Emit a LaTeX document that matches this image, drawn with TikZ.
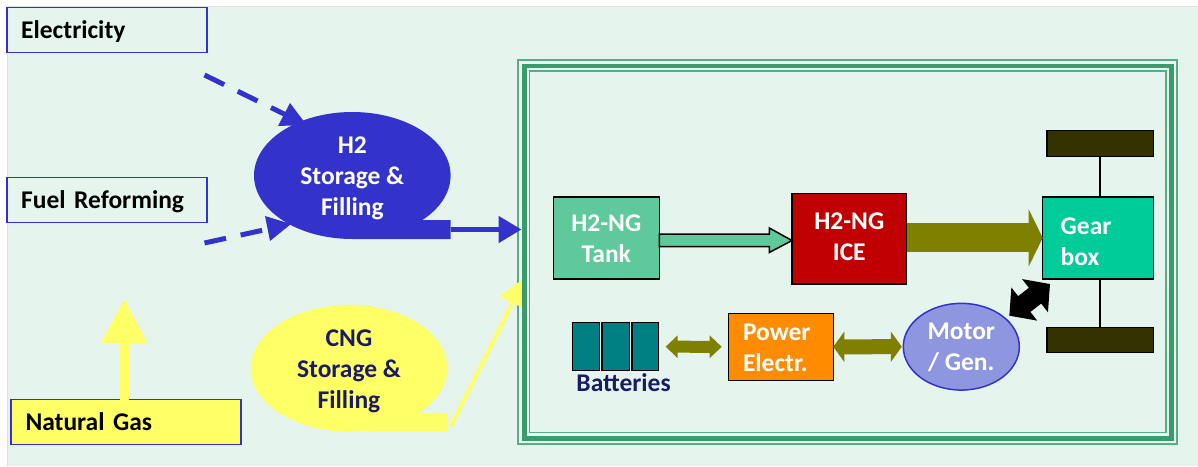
\documentclass[tikz,border=0pt]{standalone}
\usepackage{fontspec}
\setmainfont{Carlito}
\usetikzlibrary{arrows.meta,shapes.geometric,calc}
\definecolor{bgc}{HTML}{E5F5EE}
\definecolor{gapc}{HTML}{EDF7F2}
\definecolor{thinc}{HTML}{55AD84}
\definecolor{thickc}{HTML}{3A9C6E}
\definecolor{bluec}{HTML}{3333CC}
\definecolor{yel}{HTML}{FFFF66}
\definecolor{navy}{HTML}{1A1A66}
\definecolor{tankc}{HTML}{5FC99B}
\definecolor{iceC}{HTML}{C00000}
\definecolor{olive}{HTML}{808000}
\definecolor{gearc}{HTML}{00CC99}
\definecolor{wheelc}{HTML}{333300}
\definecolor{batc}{HTML}{008080}
\definecolor{powc}{HTML}{FF8C00}
\definecolor{motc}{HTML}{8E96E0}
\newcommand{\toprule}[1]{\rule{0pt}{#1pt}}
\newcommand{\ctext}[2]{\raisebox{#1pt}[0pt][0pt]{\begin{tabular}{@{}c@{}}#2\end{tabular}}}
\tikzset{
  dn/.style={execute at begin node=\rule{0pt}{#1pt}},
  lab/.style={font=\fontsize{25.5}{31}\selectfont\bfseries,inner sep=0pt,outer sep=0pt,
    dn=23,execute at end node=\rule[-6pt]{0pt}{0pt}},
  srcbox/.style={lab,rectangle,draw=bluec,line width=1.5pt,minimum height=45pt,text width=172pt,minimum width=200pt,inner xsep=14pt,align=left,text=black},
  blackbox/.style={lab,rectangle,draw=black,line width=1.5pt,text=white},
  plainbox/.style={rectangle,draw=black,line width=1.5pt,inner sep=0pt,outer sep=0pt},
  store/.style={font=\fontsize{25.5}{31}\selectfont\bfseries,inner sep=0pt,outer sep=0pt,ellipse},
  dasharr/.style={draw=bluec,line width=5pt,dash pattern=on 22pt off 15pt},
}
\begin{document}
\begin{tikzpicture}[x=1pt,y=-1pt]
\useasboundingbox (0,0) rectangle (1198,466);
% background
\fill[white] (0,0) rectangle (1198,466);
\fill[bgc] (7,7) rectangle (1198,466);
\draw[gray!25,line width=1pt] (7,466) -- (7,6.5) -- (1198,6.5);
% outer frame band
\draw[thinc,line width=1.8pt,fill=gapc] (518.2,60.1) rectangle (1176.9,443.7);
% sources
\node[srcbox] (elec) at (107.2,30) {Electricity};
\node[srcbox] (fuel) at (107.2,200) {Fuel Reforming};
\node[srcbox,fill=yel,minimum width=230pt,text width=201pt] (ng) at (126,422) {Natural Gas};
% storages
\node[store,fill=bluec,text=white,minimum width=196.6pt,minimum height=127pt] (h2) at (352.3,175.5) {\ctext{-9}{H2\\Storage \&\\Filling}};
\fill[bluec] (h2.south) -- ++(98.3,0) -- ++(0,-19) -- ++(-28,0) -- cycle;
\node[store,fill=yel,text=navy,minimum width=196.6pt,minimum height=126.7pt] (cng) at (349,368.3) {\ctext{-9}{CNG\\Storage \&\\Filling}};
\fill[yel] (cng.south) -- ++(98,0) -- ++(0,-18.4) -- ++(-28,0) -- cycle;
% free ends
\coordinate (e0) at (204.5,75);
\coordinate (e1) at (306.6,125);
\coordinate (f0) at (204.5,243);
\coordinate (f1) at (291,224);
\coordinate (h0) at (450.6,229.5);
\coordinate (h1) at (521.5,229.5);
\coordinate (c0) at (450.7,426.7);
\coordinate (c1) at (525,277.7);
\coordinate (n1) at (124.3,299);
% input arrows
\draw[dasharr] (e0) -- ($(e0)!0.8!(e1)$);
\fill[bluec] (e1) -- (290,103) -- (278,126) -- cycle;
\draw[dasharr] (f0) -- ($(f0)!0.78!(f1)$);
\fill[bluec] (f1) -- (265,216) -- (270,241) -- cycle;
\draw[bluec,line width=5pt,-{Triangle[length=23pt,width=26pt]}] (h0) -- (h1);
\draw[yel,line width=4pt,-{Triangle[length=28pt,width=28pt]}] (c0) -- (c1);
\draw[yel,line width=9pt,-{Triangle[length=44pt,width=44pt]}] (n1 |- ng.north) -- (n1);
% inner frame
\draw[thickc,line width=4.6pt,fill=gapc] (524.5,65.8) rectangle (1171.3,438.2);
\draw[thinc,line width=1.8pt,fill=bgc] (529.5,71.3) rectangle (1165.8,432.5);
% drive train
\node[blackbox,fill=tankc,align=center,minimum width=106pt,minimum height=82.3pt] (tank) at (606.3,237.9) {\toprule{24}H2-NG\\Tank};
\node[blackbox,fill=iceC,align=center,minimum width=114.7pt,minimum height=90.7pt] (ice) at (849.3,238.6) {\toprule{18}H2-NG\\ICE};
\node[blackbox,dn=31,fill=gearc,align=left,minimum width=110.6pt,minimum height=82.3pt,text width=74.6pt,inner xsep=18pt] (gear) at (1098,237.9) {Gear\\box};
\node[plainbox,fill=wheelc,minimum width=106.3pt,minimum height=26pt] (wt) at (1100.2,143.7) {};
\node[plainbox,fill=wheelc,minimum width=106.3pt,minimum height=25.4pt] (wb) at (1100.2,340) {};
\draw[black,line width=1.5pt] (wt.south) -- (wt.south |- gear.north);
\draw[black,line width=1.5pt] (wb.north) -- (wb.north |- gear.south);
\draw[black,line width=1.5pt,fill=tankc]
  (tank.east |- 0,234) -- ++(110,0) -- ++(0,-6) -- (ice.west |- 0,240.5) -- (769.3,252.5) -- ++(0,-6) -- (tank.east |- 0,246.5) -- cycle;
\draw[olive,line width=29pt,-{Triangle[length=14pt,width=56.7pt]}] (ice.east |- gear.west) -- (gear.west);
% batteries
\node[plainbox,fill=batc,minimum width=27pt,minimum height=48pt] (b1) at (586.2,346.7) {};
\node[plainbox,fill=batc,minimum width=27.3pt,minimum height=48pt] (b2) at (615.6,346.7) {};
\node[plainbox,fill=batc,minimum width=26.7pt,minimum height=48pt] (b3) at (645.3,346.7) {};
\node[lab,text=navy] (batlab) at (623.6,382.5) {Batteries};
\node[blackbox,dn=24,fill=powc,align=left,minimum width=104.6pt,minimum height=67pt,text width=76pt,inner xsep=14.3pt] (pow) at (781,346.8) {Power\\Electr.};
\node[store,fill=motc,draw=bluec,line width=1.5pt,text=white,minimum width=116pt,minimum height=86.7pt] (mot) at (961.3,346.7) {\ctext{-8}{Motor\\/ Gen.}};
\draw[olive,line width=12pt,{Triangle[length=12pt,width=22pt]}-{Triangle[length=12pt,width=22pt]}] ($(b3.east)+(7,0)$) -- ($(pow.west)+(-7,0)$);
\draw[olive,line width=15pt,{Triangle[length=11pt,width=30pt]}-{Triangle[length=11pt,width=30pt]}] (pow.east) -- ($(mot.west)+(-1.5,0)$);
\coordinate (m0) at (1009.3,315.7);
\coordinate (g0) at (1050,284);
\draw[black,line width=20pt,{Triangle[length=19pt,width=41pt]}-{Triangle[length=19pt,width=41pt]}] (m0) -- (g0);
\end{tikzpicture}
\end{document}
